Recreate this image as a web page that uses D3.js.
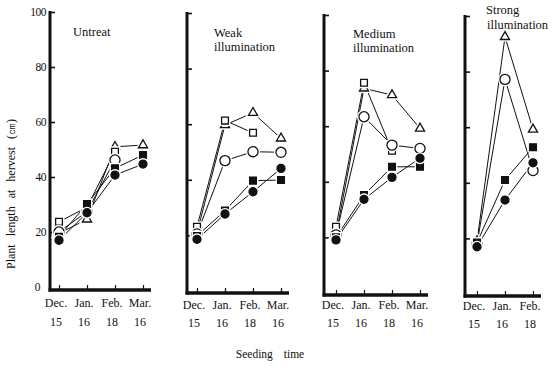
<!DOCTYPE html>
<html>
<head>
<meta charset="utf-8">
<script src="https://cdn.jsdelivr.net/npm/d3@7"></script>
<style>
  html, body { margin: 0; padding: 0; background: #fff; }
  svg { display: block; }
  text { font-family: "Liberation Serif", "DejaVu Serif", serif; fill: #111; }
</style>
</head>
<body>
<svg id="chart" width="558" height="368"></svg>
<script>
// Seeding dates (month + day) and panel headings
const months = ["Dec.", "Jan.", "Feb.", "Mar."];
const days = ["15", "16", "18", "16"];
const panelTitles = [["Untreat"], ["Weak", "illumination"], ["Medium", "illumination"], ["Strong", "illumination"]];
const yTicks = [0, 20, 40, 60, 80, 100];

// Plant length at harvest (cm): one row per panel, one value per seeding date
const openCircle   = [[20, 27.4, 46.2, null], [20.5, 46.9, 50.1, 49.9], [20.9, 63.4, 53.2, 52.0], [18.0, 77.2, 44.4]];
const filledCircle = [[17, 27.0, 40.7, 44.7], [18.6, 27.7, 35.7, 44.1], [19.1, 33.7, 41.6, 48.5], [17.0, 33.8, 47.2]];
const openSquare   = [[23.7, 29.0, 49.2, null], [23.1, 61.3, 56.9, null], [23.8, 75.6, 51.2, null], [null, null, null]];
const filledSquare = [[18.3, 30.2, 43.2, 48.0], [19.8, 28.9, 39.7, 39.9], [20.0, 35.2, 45.4, 45.4], [18.5, 41.0, 52.8]];
const openTriangle = [[19.5, 24.6, 51.0, 51.6], [21.0, 59.7, 64.1, 54.9], [21.0, 73.6, 71.2, 59.2], [19.0, 92.5, 59.2]];

const series = [
  { values: openTriangle, shape: d3.symbolTriangle, size: 36, filled: false },
  { values: openSquare,   shape: d3.symbolSquare,   size: 46, filled: false },
  { values: openCircle,   shape: d3.symbolCircle,   size: 80, filled: false },
  { values: filledSquare, shape: d3.symbolSquare,   size: 46, filled: true },
  { values: filledCircle, shape: d3.symbolCircle,   size: 50, filled: true }
];

// Panel geometry
const layout = [
  { ax: 50,  x0: 59,  y100: 12, y0: 287, base: 290, tx: 73,  ty: [36],     my: 307, ny: 326, n: 4 },
  { ax: 187, x0: 197, y100: 13, y0: 291, base: 293, tx: 214, ty: [37, 51], my: 309, ny: 327, n: 4 },
  { ax: 324, x0: 336, y100: 15, y0: 293, base: 295, tx: 353, ty: [38, 52], my: 309, ny: 327, n: 4 },
  { ax: 465, x0: 477, y100: 16, y0: 294, base: 296, tx: 486, ty: [14, 29], my: 310, ny: 328, n: 3 }
];
const step = 28;

const svg = d3.select("#chart");

layout.forEach((L, p) => {
  const dates = months.slice(0, L.n);
  const x = d3.scalePoint().domain(dates).range([L.x0, L.x0 + step * (L.n - 1)]);
  const y = d3.scaleLinear().domain([0, 100]).range([L.y0, L.y100]);
  const g = svg.append("g");

  // left axis: thick spine with inward ticks
  const yAxis = d3.axisRight(y).tickValues(yTicks.filter(v => v > 0)).tickSize(5).tickFormat("");
  const ya = g.append("g").attr("transform", `translate(${L.ax},0)`).call(yAxis);
  ya.select(".domain").remove();
  ya.selectAll(".tick line").attr("stroke", "#111").attr("stroke-width", 1.6);
  g.append("line")
    .attr("x1", L.ax).attr("x2", L.ax)
    .attr("y1", L.y100 - 1).attr("y2", L.base + 1.5)
    .attr("stroke", "#111").attr("stroke-width", 3);

  // bottom axis: thick base line with upward ticks
  const xAxis = d3.axisTop(x).tickSize(5).tickFormat("");
  const xa = g.append("g").attr("transform", `translate(0,${L.base})`).call(xAxis);
  xa.select(".domain").remove();
  xa.selectAll(".tick line").attr("stroke", "#111").attr("stroke-width", 1.2);
  g.append("line")
    .attr("x1", L.ax - 1.5).attr("x2", x(dates[dates.length - 1]) + 8)
    .attr("y1", L.base).attr("y2", L.base)
    .attr("stroke", "#111").attr("stroke-width", 3.5);

  // tick labels on the first panel only
  if (p === 0) {
    g.selectAll("text.ylab").data(yTicks).join("text")
      .attr("class", "ylab")
      .attr("x", d => d === 0 ? 40 : 46)
      .attr("y", d => y(d))
      .attr("dy", "0.35em")
      .attr("text-anchor", "end")
      .attr("font-size", 11.5)
      .attr("letter-spacing", "-0.5")
      .text(d => d);
  }

  // seeding-date labels
  g.selectAll("text.mon").data(dates).join("text")
    .attr("class", "mon")
    .attr("x", d => x(d) - 3)
    .attr("y", L.my)
    .attr("text-anchor", "middle")
    .attr("font-size", 12)
    .text(d => d);
  g.selectAll("text.day").data(days.slice(0, L.n)).join("text")
    .attr("class", "day")
    .attr("x", (d, i) => x(dates[i]) - 3)
    .attr("y", L.ny)
    .attr("text-anchor", "middle")
    .attr("font-size", 12)
    .text(d => d);

  // panel heading
  panelTitles[p].forEach((t, i) => {
    g.append("text")
      .attr("x", L.tx + (i > 0 && p === 3 ? 1 : 0))
      .attr("y", L.ty[i])
      .attr("font-size", 12.5)
      .text(t);
  });

  // connecting lines
  const line = d3.line()
    .defined(d => d.v != null)
    .x(d => x(d.m))
    .y(d => y(d.v));
  series.forEach(s => {
    const pts = s.values[p].map((v, i) => ({ m: dates[i], v }));
    g.append("path")
      .attr("d", line(pts))
      .attr("fill", "none")
      .attr("stroke", "#111")
      .attr("stroke-width", 1);
  });

  // markers, each with a thin white halo so lines stop short of them
  series.forEach(s => {
    const pts = s.values[p].map((v, i) => ({ m: dates[i], v })).filter(d => d.v != null);
    const sym = d3.symbol().type(s.shape).size(s.size);
    const mk = g.append("g");
    mk.selectAll("path.halo").data(pts).join("path")
      .attr("class", "halo")
      .attr("transform", d => `translate(${x(d.m)},${y(d.v)})`)
      .attr("d", sym)
      .attr("fill", "#fff")
      .attr("stroke", "#fff")
      .attr("stroke-width", 4);
    mk.selectAll("path.mark").data(pts).join("path")
      .attr("class", "mark")
      .attr("transform", d => `translate(${x(d.m)},${y(d.v)})`)
      .attr("d", sym)
      .attr("fill", s.filled ? "#111" : "#fff")
      .attr("stroke", "#111")
      .attr("stroke-width", 1.3);
  });
});

// shared axis titles
svg.append("text")
  .attr("transform", "translate(15,194) rotate(-90)")
  .attr("text-anchor", "middle")
  .attr("font-size", 12)
  .attr("word-spacing", "5")
  .text("Plant length at hervest (㎝)");

svg.append("text")
  .attr("x", 270)
  .attr("y", 358)
  .attr("text-anchor", "middle")
  .attr("font-size", 11.5)
  .attr("word-spacing", "8")
  .text("Seeding time");
</script>
</body>
</html>
